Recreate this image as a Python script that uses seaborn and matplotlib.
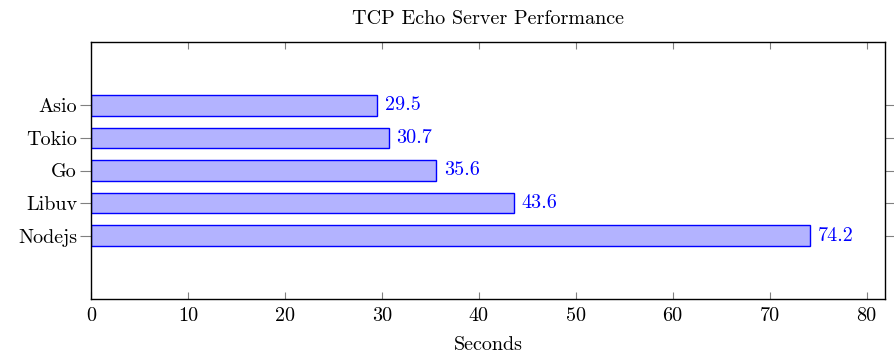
import matplotlib
matplotlib.use("Agg")
import matplotlib.pyplot as plt
import seaborn as sns
import pandas as pd

categories = ["Nodejs", "Libuv", "Go", "Tokio", "Asio"]
seconds = [74.2, 43.6, 35.6, 30.7, 29.5]
xticks = [0, 10, 20, 30, 40, 50, 60, 70, 80]

sns.set_theme(style="white")
plt.rcParams['font.family'] = ['cmr10', 'DejaVu Serif']
plt.rcParams['axes.formatter.use_mathtext'] = True
plt.rcParams['mathtext.fontset'] = 'cm'
plt.rcParams['text.color'] = 'black'
plt.rcParams['axes.labelcolor'] = 'black'
plt.rcParams['xtick.labelcolor'] = 'black'
plt.rcParams['ytick.labelcolor'] = 'black'

FS = 14.5

W, H = 894, 359
fig = plt.figure(figsize=(W / 100, H / 100), dpi=100)
ax = fig.add_axes([91 / W, 1 - 299 / H, (885 - 91) / W, (299 - 42) / H])

df = pd.DataFrame({"cat": categories, "val": seconds})
order = categories[::-1]  # Asio on top
sns.barplot(data=df, x="val", y="cat", order=order, orient="h", ax=ax,
            color="#b3b3ff", edgecolor="blue", linewidth=1.0, width=0.62,
            saturation=1)

lookup = dict(zip(categories, seconds))
for patch, c in zip(ax.patches, order):
    v = lookup[c]
    y = patch.get_y() + patch.get_height() / 2
    ax.text(v + 0.8, y, f"{v}", color="blue", va="center", ha="left", fontsize=FS)

ax.set_xlim(0, 81.9)
ax.set_ylim(5.95, -1.95)
ax.set_xticks(xticks)
ax.set_xticklabels([str(t) for t in xticks])
ax.set_xlabel("Seconds", fontsize=FS, labelpad=8, color="black")
ax.set_ylabel("")
ax.set_title("TCP Echo Server Performance", fontsize=FS, pad=13, color="black")

for s in ax.spines.values():
    s.set_color("black")
    s.set_linewidth(1.0)

ax.tick_params(axis="x", direction="in", bottom=True, top=True, length=5,
               color="#808080", width=0.8, labelsize=FS, pad=6)
ax.tick_params(axis="y", direction="out", left=True, right=True, length=8,
               color="#808080", width=0.8, labelsize=FS, pad=2)
ax.grid(False)

fig.savefig("out.png", dpi=100)
